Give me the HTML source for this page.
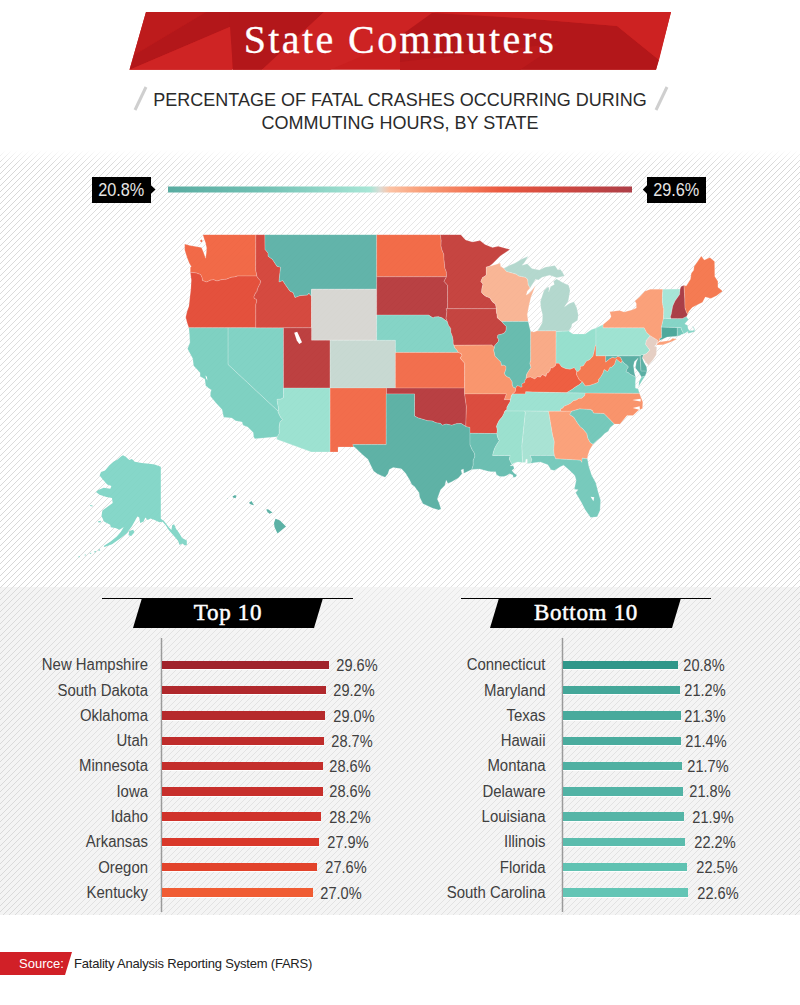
<!DOCTYPE html>
<html>
<head>
<meta charset="utf-8">
<title>State Commuters</title>
<style>
html,body{margin:0;padding:0;}
body{width:800px;height:1005px;position:relative;overflow:hidden;background:#fff;font-family:"Liberation Sans",sans-serif;color:#333;}
.abs{position:absolute;}
#bgsvg{position:absolute;left:0;top:0;width:800px;height:1005px;}
.title{position:absolute;left:0;top:14px;width:800px;text-align:center;font-family:"Liberation Serif",serif;font-size:40px;line-height:52px;color:#fff;letter-spacing:2.4px;white-space:nowrap;-webkit-text-stroke:0.3px #fff;}
.sub{position:absolute;left:0;width:800px;text-align:center;font-size:18px;letter-spacing:0px;color:#2a2a2a;white-space:nowrap;line-height:22px;}
.leglab{position:absolute;top:176.5px;height:26px;background:#000;color:#e6e6e6;font-size:18.5px;line-height:26px;text-align:center;}
.leglab span{display:inline-block;transform:scaleX(0.88);transform-origin:50% 50%;}
.bt{position:absolute;width:400px;text-align:center;font-family:"Liberation Serif",serif;font-weight:normal;font-size:23px;color:#fff;letter-spacing:0.7px;-webkit-text-stroke:0.5px #fff;line-height:30px;top:598px;white-space:nowrap;}
.lab{position:absolute;text-align:right;font-size:16px;color:#404040;white-space:nowrap;line-height:20px;height:20px;transform:scaleX(0.933);transform-origin:100% 50%;}
.val{position:absolute;width:80px;text-align:center;font-size:16px;color:#404040;white-space:nowrap;line-height:20px;height:20px;transform:scaleX(0.91);transform-origin:50% 50%;}
.bar{position:absolute;height:8.5px;box-shadow:0 1px 0 rgba(255,255,255,0.9);}
.src1{position:absolute;left:19px;top:952px;font-size:13px;line-height:23px;color:#fff;}
.src2{position:absolute;left:74px;top:952px;font-size:13px;letter-spacing:-0.2px;line-height:23px;color:#222;white-space:nowrap;}
</style>
</head>
<body>
<svg id="bgsvg" width="800" height="1005" viewBox="0 0 800 1005">
  <defs>
    <pattern id="stripes" width="6" height="6" patternUnits="userSpaceOnUse">
      <path d="M-1,7 L7,-1 M-1,1 L1,-1 M5,7 L7,5" stroke="#d2d2d2" stroke-width="0.9" fill="none"/>
    </pattern>
    <linearGradient id="fadeTop" x1="0" y1="0" x2="0" y2="1">
      <stop offset="0" stop-color="#fff" stop-opacity="1"/>
      <stop offset="1" stop-color="#fff" stop-opacity="0"/>
    </linearGradient>
    <radialGradient id="glow" cx="0.5" cy="0.5" r="0.5">
      <stop offset="0" stop-color="#fff" stop-opacity="0.55"/>
      <stop offset="0.55" stop-color="#fff" stop-opacity="0.35"/>
      <stop offset="1" stop-color="#fff" stop-opacity="0"/>
    </radialGradient>
    <linearGradient id="glow2" x1="0" y1="0" x2="1" y2="0">
      <stop offset="0" stop-color="#f3f3f3" stop-opacity="0.1"/>
      <stop offset="0.14" stop-color="#f4f4f4" stop-opacity="0.4"/>
      <stop offset="0.86" stop-color="#f4f4f4" stop-opacity="0.4"/>
      <stop offset="1" stop-color="#f3f3f3" stop-opacity="0.1"/>
    </linearGradient>
    <linearGradient id="leg" x1="0" y1="0" x2="1" y2="0">
      <stop offset="0" stop-color="#59aca1"/>
      <stop offset="0.2" stop-color="#70c0b3"/>
      <stop offset="0.435" stop-color="#a8e6d6"/>
      <stop offset="0.457" stop-color="#dcdcd6"/>
      <stop offset="0.478" stop-color="#fcc3a5"/>
      <stop offset="0.543" stop-color="#f9a07a"/>
      <stop offset="0.66" stop-color="#f27252"/>
      <stop offset="0.715" stop-color="#ea5a41"/>
      <stop offset="0.845" stop-color="#d04840"/>
      <stop offset="1" stop-color="#ad3f48"/>
    </linearGradient>
  </defs>
  <!-- section backgrounds -->
  <rect x="0" y="150" width="800" height="437" fill="#fff"/>
  <rect x="0" y="587" width="800" height="328" fill="#f4f4f4"/>
  <rect x="0" y="150" width="800" height="765" fill="url(#stripes)"/>
  <rect x="0" y="150" width="800" height="14" fill="url(#fadeTop)"/>
  <ellipse cx="400" cy="370" rx="470" ry="300" fill="url(#glow)"/>
  <rect x="0" y="587" width="800" height="328" fill="url(#glow2)"/>
  <!-- title banner -->
  <polygon points="146,12 671,12 656,69.7 129.5,69.7" fill="#c91f1f"/>
  <polygon points="146,12 206,12 134,55 129.5,69.7" fill="#bd1b1c"/>
  <polygon points="206,12 232,12 232,26 129.5,69.7 134,55" fill="#b3171a"/>
  <polygon points="129.5,69.7 232,26 232,69.7" fill="#cf2424"/>
  <polygon points="229,12 324,12 262,69.7 233,69.7" fill="#b3171a"/>
  <polygon points="324,12 436,12 400,40 330,69.7 262,69.7" fill="#cd2323"/>
  <polygon points="432,13 520,18 617,26 659,60 656,69.7 400,69.7 400,36" fill="#b3171a"/>
  <polygon points="436,12 671,12 659,60 617,26 520,18" fill="#cd2222"/>
  <polygon points="400,69.7 400,62 560,43 520,69.7" fill="#bb1a1c"/>
  <!-- slashes -->
  <path d="M146,87 L135,110" stroke="#cfcfcf" stroke-width="3" fill="none"/>
  <path d="M667,87 L656,110" stroke="#cfcfcf" stroke-width="3" fill="none"/>
  <!-- legend -->
  <rect x="168" y="186.5" width="464" height="6" fill="url(#leg)"/>
  <polygon points="150.8,185 155.5,189.5 150.8,194" fill="#000"/>
  <polygon points="647.2,185 642.8,189.5 647.2,194" fill="#000"/>
  <clipPath id="mapclip"><rect x="0" y="234.5" width="800" height="350"/></clipPath>
<g id="map" stroke="#ffffff" stroke-opacity="0.32" stroke-width="0.6" stroke-linejoin="round" clip-path="url(#mapclip)" opacity="0.93">
<path d="M184.7,244.0 L190.0,245.5 L196.0,246.5 L201.5,247.5 L203.0,251.0 L204.5,255.0 L205.6,258.3 L206.3,253.0 L206.6,248.0 L205.6,243.0 L204.2,239.0 L202.8,234.5 L255.8,234.6 L255.7,270.2 L256.4,273.3 L256.8,276.0 L237.6,276.0 L234.6,276.9 L231.3,277.3 L226.2,279.3 L222.0,279.6 L216.9,281.0 L213.6,279.7 L210.4,280.2 L206.6,282.0 L202.5,280.6 L202.0,277.6 L200.6,274.6 L196.4,273.0 L193.1,272.6 L190.3,272.3 L190.3,267.2 L191.3,266.5 L189.4,263.4 L187.1,257.7 L184.7,250.1Z M200.2,240.2 L201.8,239.6 L202.6,241.0 L201.6,242.3 L200.4,241.8Z" fill="#f15f3b"/>
<path d="M190.3,272.3 L193.1,272.6 L196.4,273.0 L200.6,274.6 L202.0,277.6 L202.5,280.6 L206.6,282.0 L210.4,280.2 L213.6,279.7 L216.9,281.0 L222.0,279.6 L226.2,279.3 L231.3,277.3 L234.6,276.9 L237.6,276.0 L256.8,276.0 L258.1,278.2 L260.7,281.0 L260.0,284.0 L258.8,286.1 L257.4,289.2 L257.0,291.4 L255.6,292.9 L254.0,296.5 L254.2,298.4 L256.3,299.2 L256.8,301.0 L255.8,304.5 L255.8,327.8 L188.8,327.8 L187.1,322.7 L185.7,317.2 L187.1,311.3 L188.9,306.2 L189.9,297.1 L190.8,289.2 L191.3,280.0Z" fill="#e3442f"/>
<path d="M188.8,327.8 L228.1,327.8 L228.1,364.5 L278.1,411.1 L278.4,412.8 L280.7,417.3 L282.7,419.5 L280.0,421.8 L279.2,426.9 L279.3,433.6 L277.3,436.7 L254.9,438.8 L253.7,436.9 L253.2,432.4 L247.7,426.9 L243.0,425.2 L242.1,422.1 L235.5,420.7 L231.8,417.9 L223.7,417.3 L222.0,409.4 L216.0,403.1 L210.4,396.2 L210.4,392.7 L211.3,389.8 L209.0,388.6 L205.7,385.8 L204.8,379.0 L200.1,376.4 L200.1,372.8 L193.6,365.7 L192.7,358.5 L187.5,348.8 L189.9,342.6 L189.4,334.0Z" fill="#76cebe"/>
<path d="M228.1,327.8 L283.5,327.8 L283.5,397.5 L281.2,399.1 L277.1,399.4 L277.5,403.1 L278.7,408.8 L278.1,411.1 L228.1,364.5Z" fill="#79d0c1"/>
<path d="M255.8,234.6 L264.9,234.6 L265.0,249.4 L268.1,253.1 L268.1,256.2 L272.5,259.4 L276.9,266.2 L280.6,267.3 L279.7,275.0 L279.0,281.9 L282.7,280.6 L285.6,285.0 L290.0,291.2 L293.1,292.5 L295.0,297.5 L300.0,295.6 L307.5,295.0 L308.8,293.1 L311.5,296.2 L311.5,327.8 L255.8,327.8 L255.8,304.5 L256.8,301.0 L256.3,299.2 L254.2,298.4 L254.0,296.5 L255.6,292.9 L257.0,291.4 L257.4,289.2 L258.8,286.1 L260.0,284.0 L260.7,281.0 L258.1,278.2 L256.8,276.0 L256.4,273.3 L255.7,270.2Z" fill="#d23d32"/>
<path d="M264.9,234.6 L376.7,234.6 L376.7,289.2 L311.5,289.2 L311.5,296.2 L308.8,293.1 L307.5,295.0 L300.0,295.6 L295.0,297.5 L293.1,292.5 L290.0,291.2 L285.6,285.0 L282.7,280.6 L279.0,281.9 L279.7,275.0 L280.6,267.3 L276.9,266.2 L272.5,259.4 L268.1,256.2 L268.1,253.1 L265.0,249.4Z" fill="#57afa4"/>
<path d="M311.5,289.2 L376.7,289.2 L376.7,340.2 L311.5,340.2Z" fill="#d6d5d0"/>
<path d="M283.5,327.8 L311.5,327.8 L311.5,340.2 L330.1,340.2 L330.1,388.1 L283.5,388.1Z" fill="#b93333"/>
<path d="M330.1,340.2 L395.4,340.2 L395.4,388.1 L330.1,388.1Z" fill="#c4d7cf"/>
<path d="M283.5,388.1 L330.1,388.1 L330.1,451.9 L311.3,451.9 L276.5,439.2 L277.3,436.7 L279.3,433.6 L279.2,426.9 L280.0,421.8 L282.7,419.5 L280.7,417.3 L278.4,412.8 L278.1,411.1 L278.7,408.8 L277.5,403.1 L277.1,399.4 L281.2,399.1 L283.5,397.5Z" fill="#96e0ce"/>
<path d="M330.1,388.1 L386.5,388.1 L386.2,444.6 L352.8,444.6 L353.6,447.0 L338.0,447.0 L338.0,451.9 L330.1,451.9Z" fill="#f2623f"/>
<path d="M376.7,234.6 L440.3,234.6 L441.2,240.3 L441.0,245.9 L442.0,250.1 L443.8,254.2 L444.0,259.7 L444.5,263.8 L444.8,267.9 L446.4,271.9 L446.5,276.8 L376.7,276.8Z" fill="#f2613c"/>
<path d="M376.7,276.8 L446.5,276.8 L444.0,281.3 L447.6,285.3 L447.6,308.7 L446.2,308.7 L446.9,311.3 L446.6,314.5 L446.0,318.3 L447.3,321.6 L445.2,320.2 L442.4,318.0 L438.7,316.8 L434.5,317.0 L433.1,318.0 L428.5,315.1 L376.7,315.1Z" fill="#b43335"/>
<path d="M376.7,315.1 L428.5,315.1 L433.1,318.0 L434.5,317.0 L438.7,316.8 L442.4,318.0 L445.2,320.2 L447.3,321.6 L448.5,325.2 L450.8,328.4 L450.8,332.1 L452.5,336.5 L453.2,340.2 L453.2,343.3 L453.9,345.3 L455.0,348.2 L456.9,350.0 L458.2,352.4 L395.4,352.4 L395.4,340.2 L376.7,340.2Z" fill="#7cd1c2"/>
<path d="M395.4,352.4 L458.2,352.4 L461.1,353.6 L462.0,355.4 L460.2,357.9 L462.0,360.3 L464.7,363.2 L464.6,388.1 L395.4,388.1Z" fill="#f26541"/>
<path d="M386.5,388.1 L464.6,388.1 L464.6,393.9 L466.4,406.7 L465.8,426.4 L461.1,423.5 L456.4,423.7 L451.8,425.2 L446.2,424.1 L442.4,425.2 L440.6,423.5 L435.9,422.7 L432.2,420.9 L427.5,420.7 L421.9,419.0 L418.2,417.9 L414.5,416.1 L414.5,393.9 L386.5,393.9Z" fill="#b43235"/>
<path d="M386.2,393.9 L414.5,393.9 L414.5,416.1 L418.2,417.9 L421.9,419.0 L427.5,420.7 L432.2,420.9 L435.9,422.7 L440.6,423.5 L442.4,425.2 L446.2,424.1 L451.8,425.2 L456.4,423.7 L461.1,423.5 L465.8,426.4 L470.0,427.4 L470.0,433.3 L470.0,444.6 L471.8,449.0 L474.6,453.6 L474.8,456.6 L473.2,460.4 L473.2,465.2 L471.8,469.5 L463.9,473.3 L463.4,469.0 L461.1,470.1 L462.0,473.8 L458.3,478.1 L451.8,481.8 L448.0,483.4 L446.2,480.2 L444.8,485.5 L440.6,489.7 L438.7,494.9 L437.3,499.1 L439.2,503.3 L441.0,508.9 L438.7,510.0 L432.2,508.0 L425.7,504.9 L422.9,503.8 L419.6,497.0 L419.1,492.8 L414.5,486.5 L411.7,484.4 L409.8,480.2 L405.6,473.3 L401.4,468.8 L393.1,467.6 L389.3,469.5 L387.9,473.8 L385.1,477.2 L381.9,475.9 L377.2,473.8 L373.5,471.0 L370.7,465.2 L367.9,459.3 L362.3,454.4 L354.8,447.3 L353.6,447.0 L352.8,444.6 L386.2,444.6Z" fill="#53ada0"/>
<path d="M440.3,234.6 L460.6,234.5 L465.6,240.0 L472.5,241.9 L480.0,240.6 L485.0,244.4 L492.5,247.5 L498.1,246.3 L510.0,249.4 L500.0,256.2 L492.5,263.7 L488.9,266.5 L486.3,267.1 L486.3,274.9 L484.9,276.2 L482.5,277.6 L480.8,281.6 L483.0,284.0 L481.9,288.6 L481.6,292.5 L483.9,294.9 L486.2,296.5 L489.8,297.8 L492.3,301.7 L495.6,304.2 L496.3,308.7 L447.6,308.7 L447.6,285.3 L444.0,281.3 L446.5,276.8 L446.4,271.9 L444.8,267.9 L444.5,263.8 L444.0,259.7 L443.8,254.2 L442.0,250.1 L441.0,245.9 L441.2,240.3Z" fill="#c23733"/>
<path d="M446.2,308.7 L496.3,308.7 L496.5,312.6 L497.0,314.5 L497.4,317.9 L499.3,319.6 L501.7,321.5 L503.8,324.0 L506.3,326.5 L506.1,330.3 L504.4,333.0 L502.1,334.0 L497.9,335.0 L497.4,337.7 L498.8,339.6 L498.4,341.4 L497.4,342.6 L494.6,345.7 L494.5,347.8 L491.6,345.0 L453.9,345.3 L453.2,343.3 L453.2,340.2 L452.5,336.5 L450.8,332.1 L450.8,328.4 L448.5,325.2 L447.3,321.6 L446.0,318.3 L446.6,314.5 L446.9,311.3Z" fill="#c13733"/>
<path d="M453.9,345.3 L491.6,345.0 L494.5,347.8 L493.7,350.0 L494.5,353.3 L495.0,356.1 L497.9,359.1 L500.9,362.1 L501.6,365.4 L503.5,365.0 L506.0,366.3 L506.0,369.0 L504.4,373.4 L505.8,375.8 L507.7,377.0 L509.4,377.5 L512.2,381.7 L512.3,384.6 L513.1,386.9 L515.6,388.3 L515.6,391.0 L514.2,392.7 L512.5,393.9 L511.4,395.6 L510.9,397.9 L510.5,399.7 L504.2,399.7 L506.3,393.9 L464.6,393.9 L464.7,363.2 L462.0,360.3 L460.2,357.9 L462.0,355.4 L461.1,353.6 L458.2,352.4 L456.9,350.0 L455.0,348.2Z" fill="#f98f64"/>
<path d="M464.6,393.9 L506.3,393.9 L504.2,399.7 L510.5,399.7 L510.0,402.0 L508.2,404.8 L506.8,407.7 L507.0,409.6 L504.9,411.1 L504.0,413.4 L502.3,416.8 L499.3,420.2 L497.9,423.0 L496.5,426.3 L497.4,430.2 L496.8,433.6 L470.0,433.3 L470.0,427.4 L465.8,426.4 L466.4,406.7Z" fill="#d94031"/>
<path d="M470.0,433.3 L496.8,433.6 L497.9,438.0 L499.3,440.7 L497.4,443.5 L495.1,447.3 L493.7,451.2 L492.6,455.5 L510.2,455.5 L509.3,459.1 L511.2,463.1 L512.1,464.4 L510.0,465.8 L513.3,465.8 L514.2,468.5 L511.9,470.6 L514.2,473.3 L517.0,474.9 L515.6,477.0 L513.3,477.5 L512.8,474.9 L509.6,473.8 L506.8,475.4 L504.0,476.5 L499.8,476.5 L496.5,474.7 L495.6,471.7 L490.9,471.7 L487.2,471.1 L479.7,469.0 L471.8,469.5 L473.2,465.2 L473.2,460.4 L474.8,456.6 L474.6,453.6 L471.8,449.0 L470.0,444.6Z" fill="#61bbad"/>
<path d="M488.9,266.5 L486.3,267.1 L486.3,274.9 L484.9,276.2 L482.5,277.6 L480.8,281.6 L483.0,284.0 L481.9,288.6 L481.6,292.5 L483.9,294.9 L486.2,296.5 L489.8,297.8 L492.3,301.7 L495.6,304.2 L496.3,308.7 L496.5,312.6 L497.0,314.5 L497.4,317.9 L499.3,319.6 L501.7,321.5 L528.2,321.5 L527.3,314.5 L529.1,304.9 L531.0,297.1 L533.3,291.2 L535.6,285.3 L531.9,290.6 L528.7,293.8 L526.3,295.1 L527.3,291.2 L530.1,287.9 L528.2,284.6 L527.7,279.3 L525.4,277.3 L518.9,276.0 L516.1,274.1 L506.6,271.4 L503.8,268.3 L500.7,266.5 L500.2,263.1 L496.5,264.2Z" fill="#f9b18f"/>
<path d="M501.7,321.5 L528.2,321.5 L530.1,329.6 L530.7,331.2 L530.7,360.3 L529.9,363.3 L531.0,367.5 L528.7,371.0 L526.8,374.0 L526.0,378.7 L525.1,379.9 L524.7,382.6 L521.9,383.8 L522.1,386.9 L520.7,387.2 L519.5,386.3 L517.0,385.8 L515.6,388.3 L513.1,386.9 L512.3,384.6 L512.2,381.7 L509.4,377.5 L507.7,377.0 L505.8,375.8 L504.4,373.4 L506.0,369.0 L506.0,366.3 L503.5,365.0 L501.6,365.4 L500.9,362.1 L497.9,359.1 L495.0,356.1 L494.5,353.3 L493.7,350.0 L494.5,347.8 L494.6,345.7 L497.4,342.6 L498.4,341.4 L498.8,339.6 L497.4,337.7 L497.9,335.0 L502.1,334.0 L504.4,333.0 L506.1,330.3 L506.3,326.5 L503.8,324.0Z" fill="#5eb8aa"/>
<path d="M530.7,331.2 L533.8,332.1 L537.3,330.8 L556.1,330.8 L556.0,363.3 L555.4,365.7 L552.4,368.1 L550.6,367.7 L550.1,370.4 L548.2,372.8 L546.8,373.2 L545.9,376.4 L542.2,374.6 L540.3,377.2 L537.5,376.6 L534.7,379.0 L530.5,377.0 L527.3,377.5 L526.0,378.7 L526.8,374.0 L528.7,371.0 L531.0,367.5 L529.9,363.3 L530.7,360.3Z" fill="#f9a57f"/>
<path d="M537.3,330.8 L556.1,330.8 L556.1,331.5 L568.7,331.1 L571.5,327.1 L572.0,324.0 L577.6,320.2 L578.3,315.1 L576.7,307.5 L573.9,301.7 L569.2,303.6 L564.5,306.8 L568.3,301.0 L570.1,290.6 L568.7,285.3 L562.7,282.6 L556.6,278.9 L553.4,281.3 L554.3,284.6 L550.6,286.6 L548.7,291.9 L549.2,287.3 L547.3,287.3 L544.0,290.6 L542.6,294.5 L540.3,301.7 L540.8,307.5 L542.6,315.1 L542.2,322.7 L539.4,327.8Z M503.8,268.3 L506.6,271.4 L516.1,274.1 L518.9,276.0 L525.4,277.3 L527.7,279.3 L528.2,284.6 L530.1,287.9 L535.6,279.3 L538.4,280.0 L542.2,277.3 L549.6,275.3 L556.9,277.7 L564.5,276.0 L562.7,272.6 L560.3,269.2 L558.0,269.9 L554.8,265.6 L545.0,267.2 L539.4,269.9 L531.9,268.6 L527.3,263.8 L522.1,265.2 L524.5,262.5 L528.2,256.3 L521.7,259.0 L515.1,263.1 L509.6,265.2Z" fill="#afd6cb"/>
<path d="M556.1,331.5 L568.7,331.1 L572.9,334.0 L575.7,334.0 L582.2,334.0 L585.0,334.0 L591.6,329.6 L596.0,328.0 L596.0,344.6 L594.8,347.5 L594.1,351.8 L593.0,356.1 L589.7,359.7 L586.4,361.2 L584.6,363.9 L583.2,365.9 L580.4,366.6 L580.4,369.3 L578.1,371.4 L576.7,371.4 L574.3,367.7 L570.1,369.3 L565.9,368.7 L561.7,366.9 L558.9,363.3 L556.0,363.3Z" fill="#90decb"/>
<path d="M556.0,363.3 L558.9,363.3 L561.7,366.9 L565.9,368.7 L570.1,369.3 L574.3,367.7 L576.7,371.4 L576.5,374.6 L578.1,377.5 L579.5,380.1 L582.5,381.8 L579.5,384.6 L575.5,386.9 L572.0,389.5 L566.6,392.7 L554.3,392.5 L540.3,392.2 L525.7,391.8 L525.7,393.9 L512.5,393.9 L514.2,392.7 L515.6,391.0 L515.6,388.3 L517.0,385.8 L519.5,386.3 L520.7,387.2 L522.1,386.9 L521.9,383.8 L524.7,382.6 L525.1,379.9 L526.0,378.7 L527.3,377.5 L530.5,377.0 L534.7,379.0 L537.5,376.6 L540.3,377.2 L542.2,374.6 L545.9,376.4 L546.8,373.2 L548.2,372.8 L550.1,370.4 L550.6,367.7 L552.4,368.1 L555.4,365.7Z" fill="#ed5334"/>
<path d="M512.5,393.9 L525.7,393.9 L525.7,391.8 L540.3,392.2 L554.3,392.5 L566.6,392.7 L585.2,392.9 L584.8,395.6 L581.8,398.3 L578.5,398.5 L576.7,400.0 L573.4,400.8 L570.6,403.3 L568.3,404.6 L563.6,406.6 L563.1,408.0 L560.8,408.8 L560.6,411.2 L548.6,411.3 L524.5,411.1 L504.9,411.1 L507.0,409.6 L506.8,407.7 L508.2,404.8 L510.0,402.0 L510.5,399.7 L510.9,397.9 L511.4,395.6Z" fill="#97e0cf"/>
<path d="M504.9,411.1 L524.5,411.1 L525.4,412.2 L521.9,445.7 L522.6,462.5 L517.9,462.0 L514.2,463.1 L512.1,464.4 L511.2,463.1 L509.3,459.1 L510.2,455.5 L492.6,455.5 L493.7,451.2 L495.1,447.3 L497.4,443.5 L499.3,440.7 L497.9,438.0 L496.8,433.6 L497.4,430.2 L496.5,426.3 L497.9,423.0 L499.3,420.2 L502.3,416.8 L504.0,413.4Z" fill="#95dfcc"/>
<path d="M524.5,411.1 L548.6,411.3 L552.6,435.0 L554.3,441.3 L553.8,450.1 L554.3,455.5 L530.1,455.5 L531.9,459.3 L530.8,463.3 L527.3,463.8 L527.3,459.3 L525.9,459.3 L525.4,462.5 L522.6,462.5 L521.9,445.7 L525.4,412.2Z" fill="#a3e1d1"/>
<path d="M548.6,411.3 L560.6,411.2 L571.9,411.1 L569.7,414.5 L573.9,417.3 L577.1,422.4 L580.4,426.9 L582.7,428.6 L586.9,433.6 L587.8,438.0 L590.2,442.4 L593.0,444.3 L589.7,450.1 L587.8,455.5 L587.4,458.8 L582.2,458.2 L581.8,462.4 L580.4,460.2 L555.6,458.8 L554.3,455.5 L553.8,450.1 L554.3,441.3 L552.6,435.0Z" fill="#fb9b72"/>
<path d="M530.8,463.3 L531.9,459.3 L530.1,455.5 L554.3,455.5 L555.6,458.8 L580.4,460.2 L581.8,462.4 L582.2,458.2 L587.4,458.8 L588.8,466.3 L591.6,474.9 L595.8,482.8 L598.1,491.8 L600.6,500.2 L600.0,510.6 L597.2,516.7 L590.6,517.6 L585.0,509.5 L581.3,502.3 L575.7,492.8 L578.1,489.7 L574.3,489.2 L576.2,480.2 L574.8,475.4 L569.2,470.1 L563.6,465.2 L560.3,466.8 L554.3,470.6 L551.0,469.7 L547.8,464.7 L540.3,462.0 L533.8,462.8Z" fill="#6ec7b8"/>
<path d="M571.9,411.1 L579.5,408.8 L591.2,409.4 L591.2,410.5 L592.2,410.0 L593.6,413.1 L604.0,413.4 L614.4,424.1 L610.2,427.4 L608.3,431.3 L604.6,433.6 L601.4,436.9 L596.7,440.7 L593.0,444.3 L590.2,442.4 L587.8,438.0 L586.9,433.6 L582.7,428.6 L580.4,426.9 L577.1,422.4 L573.9,417.3 L569.7,414.5Z" fill="#6cc5b6"/>
<path d="M560.6,411.2 L560.8,408.8 L563.1,408.0 L563.6,406.6 L568.3,404.6 L570.6,403.3 L573.4,400.8 L576.7,400.0 L578.5,398.5 L581.8,398.3 L584.8,395.6 L585.2,392.9 L639.4,393.3 L642.8,402.0 L642.5,408.5 L638.2,410.5 L633.0,415.6 L627.0,415.6 L620.0,424.1 L614.4,424.1 L604.0,413.4 L593.6,413.1 L592.2,410.0 L591.2,410.5 L591.2,409.4 L579.5,408.8 L571.9,411.1Z" fill="#f98c61"/>
<path d="M566.6,392.7 L572.0,389.5 L575.5,386.9 L579.5,384.6 L582.5,381.8 L585.2,385.8 L589.4,385.4 L593.0,384.2 L596.2,383.1 L598.1,382.3 L598.8,380.7 L598.1,380.1 L600.9,376.4 L602.8,373.2 L604.1,369.4 L607.4,371.4 L608.1,370.7 L610.2,366.9 L611.4,367.3 L614.4,364.5 L616.3,358.9 L621.1,362.9 L622.1,360.6 L624.2,363.3 L626.5,364.8 L628.5,367.0 L627.0,369.3 L626.0,371.6 L628.8,372.8 L629.8,374.0 L633.5,375.8 L635.8,377.5 L635.4,381.7 L635.4,388.1 L638.2,388.9 L639.4,393.3 L585.2,392.9Z M638.6,386.7 L641.9,381.1 L645.2,376.0 L641.4,377.0 L639.1,381.7Z" fill="#76cebe"/>
<path d="M596.0,344.6 L596.0,355.8 L605.7,355.8 L605.7,362.1 L609.6,358.8 L612.5,357.3 L615.3,358.1 L617.7,356.3 L620.5,357.3 L622.1,360.6 L621.1,362.9 L616.3,358.9 L614.4,364.5 L611.4,367.3 L610.2,366.9 L608.1,370.7 L607.4,371.4 L604.1,369.4 L602.8,373.2 L600.9,376.4 L598.1,380.1 L598.8,380.7 L598.1,382.3 L596.2,383.1 L593.0,384.2 L589.4,385.4 L585.2,385.8 L582.5,381.8 L579.5,380.1 L578.1,377.5 L576.5,374.6 L576.7,371.4 L578.1,371.4 L580.4,369.3 L580.4,366.6 L583.2,365.9 L584.6,363.9 L586.4,361.2 L589.7,359.7 L593.0,356.1 L594.1,351.8 L594.8,347.5Z" fill="#f47045"/>
<path d="M605.7,355.8 L640.1,355.8 L641.0,370.9 L647.0,371.0 L645.2,376.0 L641.4,377.0 L639.1,372.8 L635.4,368.1 L636.3,362.1 L638.2,357.9 L634.4,361.5 L633.5,365.7 L634.4,372.8 L635.4,376.4 L635.8,377.5 L633.5,375.8 L629.8,374.0 L628.8,372.8 L626.0,371.6 L627.0,369.3 L628.5,367.0 L626.5,364.8 L624.2,363.3 L622.1,360.6 L620.5,357.3 L617.7,356.3 L615.3,358.1 L612.5,357.3 L609.6,358.8 L605.7,362.1Z" fill="#50aa9e"/>
<path d="M640.1,355.8 L641.9,354.5 L643.8,354.8 L642.4,358.5 L643.8,362.1 L646.6,366.9 L647.0,371.0 L641.0,370.9Z" fill="#52ac9f"/>
<path d="M596.0,328.0 L603.1,324.4 L603.1,327.8 L644.2,327.8 L646.8,332.7 L650.3,335.7 L646.3,340.4 L645.6,344.5 L649.8,350.0 L646.6,353.6 L643.8,354.8 L641.9,354.5 L640.1,355.8 L605.7,355.8 L596.0,355.8 L596.0,344.6Z" fill="#98e1cf"/>
<path d="M650.3,335.7 L657.7,340.2 L656.3,344.5 L654.5,346.3 L656.8,346.9 L656.3,354.8 L653.1,359.7 L648.4,365.3 L644.7,360.9 L642.4,357.3 L643.8,354.8 L646.6,353.6 L649.8,350.0 L645.6,344.5 L646.3,340.4Z" fill="#e4ccc0"/>
<path d="M603.1,324.4 L609.7,318.9 L611.1,316.4 L609.7,311.8 L619.5,310.4 L624.2,311.9 L631.6,310.0 L636.3,308.1 L636.3,303.6 L634.9,301.0 L640.0,296.5 L644.7,291.2 L650.3,289.2 L662.9,289.2 L662.4,295.8 L662.4,302.3 L663.3,307.5 L663.8,308.7 L663.5,318.3 L661.5,327.1 L661.7,337.6 L659.3,338.9 L660.1,340.2 L657.7,342.6 L656.8,343.9 L657.7,340.2 L650.3,335.7 L646.8,332.7 L644.2,327.8 L603.1,327.8Z M656.5,345.1 L663.3,344.7 L670.8,342.0 L676.7,339.3 L672.7,338.3 L669.9,340.5 L664.3,341.2 L659.1,342.0 L657.3,343.6Z" fill="#fb9a71"/>
<path d="M661.5,327.1 L677.3,327.5 L677.3,335.2 L676.8,336.2 L667.1,337.1 L660.1,340.2 L659.3,338.9 L661.7,337.6Z" fill="#42a395"/>
<path d="M677.3,327.5 L681.2,327.5 L681.2,329.0 L682.9,332.1 L683.6,334.0 L681.0,334.6 L680.1,335.6 L676.8,336.2 L677.3,335.2Z" fill="#6ac4b5"/>
<path d="M661.5,327.1 L663.5,318.3 L671.2,318.6 L682.4,318.6 L685.7,316.7 L686.4,316.8 L688.5,319.6 L685.7,322.7 L684.8,324.0 L687.6,325.2 L688.0,328.4 L689.4,330.5 L693.2,330.5 L693.9,329.8 L693.5,327.8 L692.2,327.1 L692.0,326.6 L693.6,327.0 L694.6,329.0 L694.7,331.7 L688.0,333.6 L688.0,331.5 L683.6,334.0 L682.9,332.1 L681.2,329.0 L681.2,327.5 L677.3,327.5Z" fill="#7dd2c3"/>
<path d="M662.9,289.2 L680.1,289.1 L679.6,294.5 L675.0,301.0 L672.7,306.2 L671.3,313.9 L670.3,317.0 L671.2,318.6 L663.5,318.3 L663.8,308.7 L663.3,307.5 L662.4,302.3 L662.4,295.8Z" fill="#a1e4d4"/>
<path d="M680.1,289.1 L681.0,286.6 L684.0,285.3 L684.8,298.4 L685.0,307.8 L686.4,311.9 L687.6,314.2 L686.4,316.8 L685.7,316.7 L682.4,318.6 L671.2,318.6 L670.3,317.0 L671.3,313.9 L672.7,306.2 L675.0,301.0 L679.6,294.5Z" fill="#a5313b"/>
<path d="M684.0,285.3 L686.2,286.0 L690.4,279.3 L691.3,273.3 L693.6,270.3 L694.1,266.5 L701.3,256.1 L702.9,258.3 L704.3,260.0 L709.9,257.5 L714.6,261.5 L714.8,276.6 L717.9,281.3 L717.9,287.3 L722.0,290.6 L722.2,291.6 L716.5,295.8 L710.9,298.4 L705.3,297.1 L702.5,302.3 L696.0,305.5 L692.2,307.5 L689.0,311.3 L687.6,314.2 L686.4,311.9 L685.0,307.8 L684.8,298.4Z" fill="#f57246"/>
<polygon points="294.2,332.8 297.2,331.8 302,342.3 299.3,344 296.8,340.5" fill="#fff" stroke="none"/><polygon points="590.6,496.8 594.3,497.3 593.4,501.3" fill="#fff" stroke="none"/><polygon points="640.6,398.8 632.3,400 640.6,401.4" fill="#fff" stroke="none"/><polygon points="639.6,406.2 632.8,408.1 640,410" fill="#fff" stroke="none"/><polygon points="205.4,375.4 206.9,376.8 207.4,380.6 206.2,378.6" fill="#fff" stroke="none"/>
<path d="M123.0,455.2 L126.0,457.1 L129.2,459.9 L131.9,459.1 L134.7,461.7 L141.6,463.1 L149.1,463.7 L154.6,464.6 L160.8,466.8 L160.8,518.7 L164.2,521.2 L167.0,524.9 L169.5,528.1 L171.4,530.0 L172.2,525.3 L174.1,524.2 L176.1,529.1 L178.8,532.5 L182.1,538.0 L186.8,540.5 L186.8,544.9 L184.9,545.4 L182.4,543.5 L179.6,544.9 L178.0,540.7 L175.5,537.7 L172.2,533.9 L168.6,529.7 L165.9,525.6 L162.6,521.8 L159.4,522.3 L154.6,520.1 L150.5,518.5 L147.7,520.1 L145.3,517.4 L143.6,521.5 L140.2,522.9 L139.2,517.4 L137.4,516.3 L135.4,520.1 L131.9,526.3 L126.8,533.2 L120.9,538.0 L112.0,544.2 L104.4,546.9 L103.7,546.0 L110.6,541.4 L116.8,536.6 L120.9,531.8 L123.7,527.0 L119.6,529.7 L115.4,528.1 L110.6,527.3 L110.6,524.9 L104.0,521.5 L101.5,516.0 L102.4,510.5 L107.9,506.4 L112.7,502.9 L112.0,498.1 L106.5,497.0 L99.6,494.8 L96.0,492.1 L98.2,489.9 L103.7,487.8 L110.3,488.8 L111.4,486.0 L107.2,484.4 L103.7,480.5 L99.6,475.6 L101.0,472.0 L105.1,470.6 L109.2,465.4 L113.4,461.8 L117.5,459.6 L121.3,456.3Z M129.2,531.1 L133.3,529.7 L134.3,532.5 L131.2,535.9 L128.5,535.2Z M98.0,521.2 L100.7,520.8 L101.0,522.2 L98.5,522.6Z M90.0,505.0 L92.5,505.4 L92.7,506.4 L90.3,506.1Z M98.2,549.7 L99.9,549.3 L100.2,550.4 L98.5,550.8Z M94.1,551.5 L95.8,551.1 L96.0,552.0 L94.4,552.4Z M89.7,553.1 L91.1,552.7 L91.4,553.5 L90.0,553.9Z M84.5,554.8 L85.9,554.4 L86.2,555.2 L84.8,555.6Z M78.3,556.6 L79.7,556.1 L80.0,557.0 L78.6,557.4Z" fill="#7dd5c5" stroke="none"/>
<path d="M232.5,496.5 L235.0,495.0 L236.5,496.0 L235.5,498.2 L233.0,497.5Z M227.2,498.2 L227.8,498.2 L227.8,498.8 L227.2,498.8Z M249.0,502.8 L251.5,501.0 L254.0,505.2 L252.0,504.8 L250.0,504.0Z M266.2,509.5 L268.0,509.2 L272.5,512.5 L269.5,513.8 L267.5,512.0Z M275.5,518.8 L280.0,520.5 L286.0,526.5 L277.5,533.5 L274.5,527.0 L274.0,523.0Z" fill="#51ada0" stroke="none"/>
</g>
  <!-- bar chart banners -->
  <path d="M102,598.5 H353" stroke="#000" stroke-width="1"/>
  <polygon points="142,598 323,598 314,628 133,628" fill="#000"/>
  <path d="M461,598.5 H711" stroke="#000" stroke-width="1"/>
  <polygon points="499,598 681,598 672,628 490,628" fill="#000"/>
  <path d="M161.5,638 V912" stroke="#9a9a9a" stroke-width="1.5"/>
  <path d="M562.5,638 V912" stroke="#9a9a9a" stroke-width="1.5"/>
  <!-- footer -->
  <polygon points="0,952 72,952 65,975 0,975" fill="#d12027"/>
</svg>

<div class="title">State Commuters</div>
<div class="sub" style="top:89px;">PERCENTAGE OF FATAL CRASHES OCCURRING DURING</div>
<div class="sub" style="top:111.5px;">COMMUTING HOURS, BY STATE</div>

<div class="leglab" style="left:91.5px;width:59.5px;"><span>20.8%</span></div>
<div class="leglab" style="left:647px;width:59px;"><span>29.6%</span></div>

<div class="bt" style="left:28px;">Top 10</div>
<div class="bt" style="left:386px;">Bottom 10</div>

<div class="lab" style="left:0;width:148px;top:655.2px;">New Hampshire</div>
<div class="bar" style="left:162px;top:660.6px;width:166.8px;background:#a0232b;"></div>
<div class="val" style="left:317.4px;top:655.9px;">29.6%</div>
<div class="lab" style="left:0;width:148px;top:680.5px;">South Dakota</div>
<div class="bar" style="left:162px;top:685.9px;width:163.9px;background:#b0282c;"></div>
<div class="val" style="left:314.0px;top:681.2px;">29.2%</div>
<div class="lab" style="left:0;width:148px;top:705.8px;">Oklahoma</div>
<div class="bar" style="left:162px;top:711.2px;width:163.4px;background:#b62a2c;"></div>
<div class="val" style="left:314.0px;top:706.5px;">29.0%</div>
<div class="lab" style="left:0;width:148px;top:731.1px;">Utah</div>
<div class="bar" style="left:162px;top:736.5px;width:161.5px;background:#bf2c2b;"></div>
<div class="val" style="left:311.8px;top:731.8px;">28.7%</div>
<div class="lab" style="left:0;width:148px;top:756.4px;">Minnesota</div>
<div class="bar" style="left:162px;top:761.8px;width:160.9px;background:#c42e2b;"></div>
<div class="val" style="left:309.6px;top:757.1px;">28.6%</div>
<div class="lab" style="left:0;width:148px;top:781.6px;">Iowa</div>
<div class="bar" style="left:162px;top:787.0px;width:160.9px;background:#c72f2b;"></div>
<div class="val" style="left:309.6px;top:782.4px;">28.6%</div>
<div class="lab" style="left:0;width:148px;top:806.9px;">Idaho</div>
<div class="bar" style="left:162px;top:812.3px;width:158.9px;background:#d0322a;"></div>
<div class="val" style="left:309.6px;top:807.6px;">28.2%</div>
<div class="lab" style="left:0;width:148px;top:832.2px;">Arkansas</div>
<div class="bar" style="left:162px;top:837.6px;width:156.9px;background:#d9382a;"></div>
<div class="val" style="left:307.6px;top:832.9px;">27.9%</div>
<div class="lab" style="left:0;width:148px;top:857.5px;">Oregon</div>
<div class="bar" style="left:162px;top:862.9px;width:155.3px;background:#e2432b;"></div>
<div class="val" style="left:305.6px;top:858.2px;">27.6%</div>
<div class="lab" style="left:0;width:148px;top:882.8px;">Kentucky</div>
<div class="bar" style="left:162px;top:888.2px;width:151.1px;background:#f05c33;"></div>
<div class="val" style="left:300.7px;top:883.5px;">27.0%</div>
<div class="lab" style="left:300px;width:245.5px;top:655.2px;">Connecticut</div>
<div class="bar" style="left:563px;top:660.6px;width:114.8px;background:#2f978a;"></div>
<div class="val" style="left:663.6px;top:655.9px;">20.8%</div>
<div class="lab" style="left:300px;width:245.5px;top:680.5px;">Maryland</div>
<div class="bar" style="left:563px;top:685.9px;width:117.4px;background:#44a799;"></div>
<div class="val" style="left:664.9px;top:681.2px;">21.2%</div>
<div class="lab" style="left:300px;width:245.5px;top:705.8px;">Texas</div>
<div class="bar" style="left:563px;top:711.2px;width:117.8px;background:#48aa9c;"></div>
<div class="val" style="left:665.2px;top:706.5px;">21.3%</div>
<div class="lab" style="left:300px;width:245.5px;top:731.1px;">Hawaii</div>
<div class="bar" style="left:563px;top:736.5px;width:118.0px;background:#4aac9e;"></div>
<div class="val" style="left:666.2px;top:731.8px;">21.4%</div>
<div class="lab" style="left:300px;width:245.5px;top:756.4px;">Montana</div>
<div class="bar" style="left:563px;top:761.8px;width:119.3px;background:#4fb0a2;"></div>
<div class="val" style="left:667.8px;top:757.1px;">21.7%</div>
<div class="lab" style="left:300px;width:245.5px;top:781.6px;">Delaware</div>
<div class="bar" style="left:563px;top:787.0px;width:120.4px;background:#52b3a5;"></div>
<div class="val" style="left:669.8px;top:782.4px;">21.8%</div>
<div class="lab" style="left:300px;width:245.5px;top:806.9px;">Louisiana</div>
<div class="bar" style="left:563px;top:812.3px;width:120.9px;background:#55b5a7;"></div>
<div class="val" style="left:673.2px;top:807.6px;">21.9%</div>
<div class="lab" style="left:300px;width:245.5px;top:832.2px;">Illinois</div>
<div class="bar" style="left:563px;top:837.6px;width:122.2px;background:#5bbcad;"></div>
<div class="val" style="left:674.5px;top:832.9px;">22.2%</div>
<div class="lab" style="left:300px;width:245.5px;top:857.5px;">Florida</div>
<div class="bar" style="left:563px;top:862.9px;width:124.3px;background:#60c2b2;"></div>
<div class="val" style="left:676.5px;top:858.2px;">22.5%</div>
<div class="lab" style="left:300px;width:245.5px;top:882.8px;">South Carolina</div>
<div class="bar" style="left:563px;top:888.2px;width:124.9px;background:#63c5b5;"></div>
<div class="val" style="left:677.6px;top:883.5px;">22.6%</div>

<div class="src1">Source:</div>
<div class="src2">Fatality Analysis Reporting System (FARS)</div>
</body>
</html>
